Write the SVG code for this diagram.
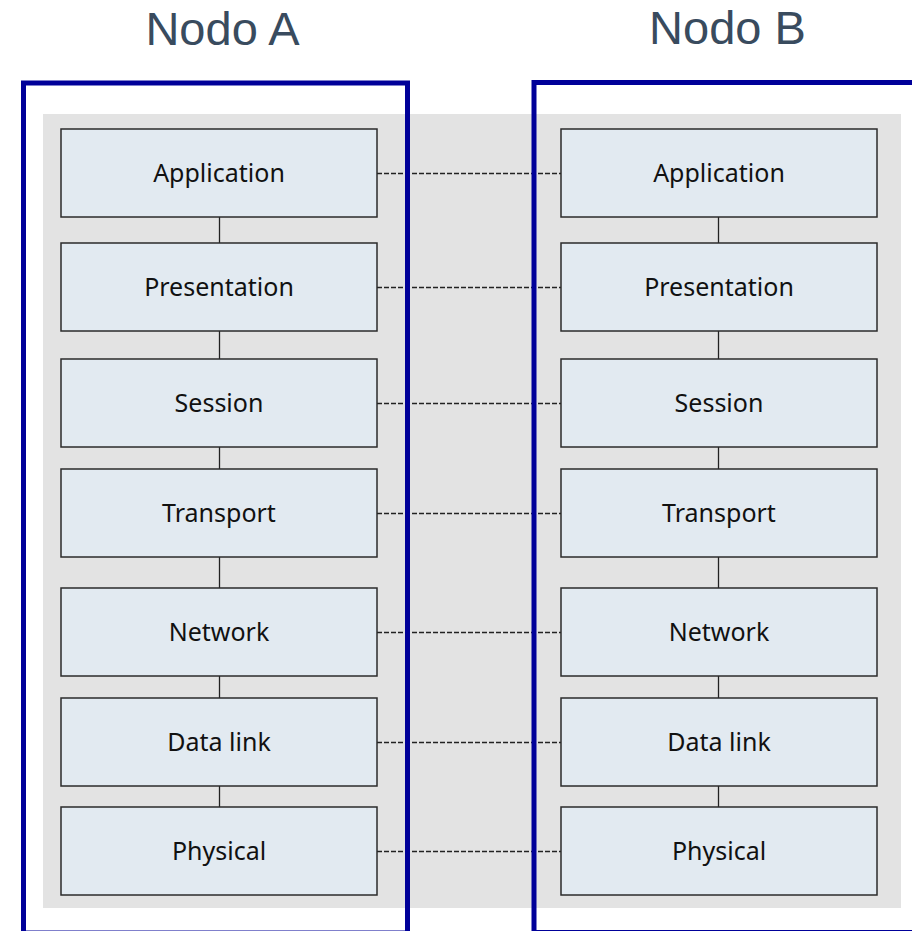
<svg xmlns="http://www.w3.org/2000/svg" width="912" height="931" viewBox="0 0 912 931">
<style>
.bg{fill:#e3e3e3}
.box{fill:#e2eaf1;stroke:#2b2b2b;stroke-width:1.5}
.lbl{font-family:"Noto Sans","Open Sans",sans-serif;font-size:25px;fill:#111111;text-anchor:middle}
.v{stroke:#222222;stroke-width:1.3}
.d{stroke:#222222;stroke-width:1.3;stroke-dasharray:5,2}
.frame{fill:none;stroke:#000099;stroke-width:5}
.title{font-family:"Liberation Sans",Arial,sans-serif;font-size:47px;fill:#394b5e;text-anchor:middle}
</style>
<rect class="bg" x="43" y="114" width="858" height="794"/>
<g id="connectors">
<line class="v" x1="219.5" y1="217" x2="219.5" y2="243"/>
<line class="v" x1="219.5" y1="331" x2="219.5" y2="359"/>
<line class="v" x1="219.5" y1="447" x2="219.5" y2="469"/>
<line class="v" x1="219.5" y1="557" x2="219.5" y2="588"/>
<line class="v" x1="219.5" y1="676" x2="219.5" y2="698"/>
<line class="v" x1="219.5" y1="786" x2="219.5" y2="807"/>
<line class="v" x1="718.5" y1="217" x2="718.5" y2="243"/>
<line class="v" x1="718.5" y1="331" x2="718.5" y2="359"/>
<line class="v" x1="718.5" y1="447" x2="718.5" y2="469"/>
<line class="v" x1="718.5" y1="557" x2="718.5" y2="588"/>
<line class="v" x1="718.5" y1="676" x2="718.5" y2="698"/>
<line class="v" x1="718.5" y1="786" x2="718.5" y2="807"/>
<line class="d" x1="377" y1="173.5" x2="561" y2="173.5"/>
<line class="d" x1="377" y1="287.5" x2="561" y2="287.5"/>
<line class="d" x1="377" y1="403.5" x2="561" y2="403.5"/>
<line class="d" x1="377" y1="513.5" x2="561" y2="513.5"/>
<line class="d" x1="377" y1="632.5" x2="561" y2="632.5"/>
<line class="d" x1="377" y1="742.5" x2="561" y2="742.5"/>
<line class="d" x1="377" y1="851.5" x2="561" y2="851.5"/>
</g>
<g id="a-application"><rect class="box" x="61" y="129" width="316" height="88"/><text class="lbl" x="219" y="182">Application</text></g>
<g id="a-presentation"><rect class="box" x="61" y="243" width="316" height="88"/><text class="lbl" x="219" y="296">Presentation</text></g>
<g id="a-session"><rect class="box" x="61" y="359" width="316" height="88"/><text class="lbl" x="219" y="412">Session</text></g>
<g id="a-transport"><rect class="box" x="61" y="469" width="316" height="88"/><text class="lbl" x="219" y="522">Transport</text></g>
<g id="a-network"><rect class="box" x="61" y="588" width="316" height="88"/><text class="lbl" x="219" y="641">Network</text></g>
<g id="a-datalink"><rect class="box" x="61" y="698" width="316" height="88"/><text class="lbl" x="219" y="751">Data link</text></g>
<g id="a-physical"><rect class="box" x="61" y="807" width="316" height="88"/><text class="lbl" x="219" y="860">Physical</text></g>
<g id="b-application"><rect class="box" x="561" y="129" width="316" height="88"/><text class="lbl" x="719" y="182">Application</text></g>
<g id="b-presentation"><rect class="box" x="561" y="243" width="316" height="88"/><text class="lbl" x="719" y="296">Presentation</text></g>
<g id="b-session"><rect class="box" x="561" y="359" width="316" height="88"/><text class="lbl" x="719" y="412">Session</text></g>
<g id="b-transport"><rect class="box" x="561" y="469" width="316" height="88"/><text class="lbl" x="719" y="522">Transport</text></g>
<g id="b-network"><rect class="box" x="561" y="588" width="316" height="88"/><text class="lbl" x="719" y="641">Network</text></g>
<g id="b-datalink"><rect class="box" x="561" y="698" width="316" height="88"/><text class="lbl" x="719" y="751">Data link</text></g>
<g id="b-physical"><rect class="box" x="561" y="807" width="316" height="88"/><text class="lbl" x="719" y="860">Physical</text></g>
<g id="node-a"><rect class="frame" x="23.5" y="83" width="384" height="850"/><text class="title" x="222.5" y="45">Nodo A</text></g>
<g id="node-b"><rect class="frame" x="534" y="82.5" width="420" height="850"/><text class="title" x="727.5" y="44">Nodo B</text></g>
</svg>
